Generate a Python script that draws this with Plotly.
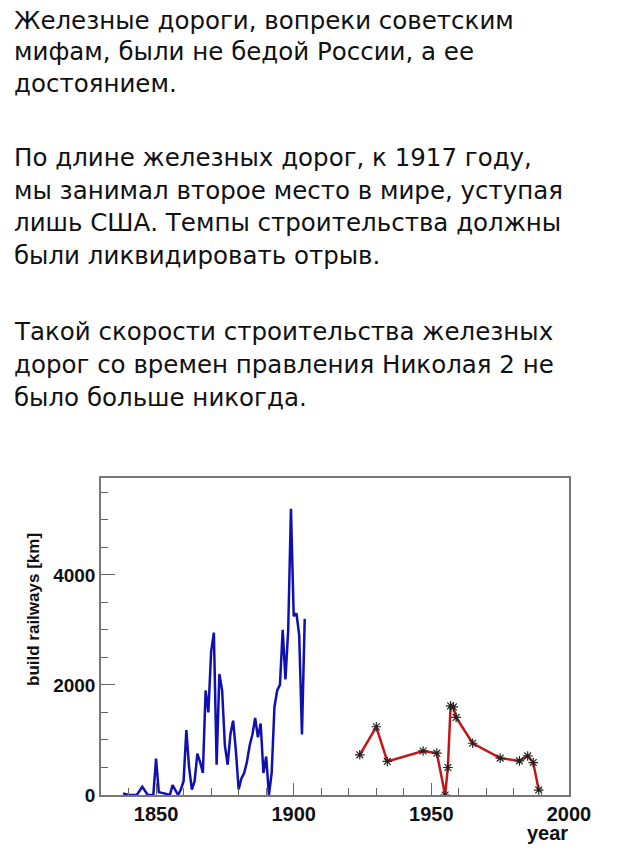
import plotly.graph_objects as go

years_blue = [1838,1840,1843,1845,1847,1849,1850,1851,1853,1855,1856,1858,1859,1860,1861,1862,1863,1864,1865,1866,1867,1868,1869,1870,1871,1872,1873,1874,1875,1876,1877,1878,1879,1880,1881,1882,1883,1884,1885,1886,1887,1888,1889,1890,1891,1892,1893,1894,1895,1896,1897,1898,1899,1900,1901,1902,1903,1904]
km_blue = [30,0,0,150,0,0,660,50,30,0,180,0,100,250,1180,500,100,250,750,600,400,1900,1500,2600,2950,550,2200,1900,900,550,1100,1350,800,100,300,400,600,900,1100,1400,1050,1300,400,700,0,400,1600,1900,2000,3000,2100,3000,5200,3250,3300,2900,1100,3200]

years_red = [1924,1930,1934,1947,1952,1955,1956,1957,1958,1959,1965,1975,1982,1985,1987,1989]
km_red = [730,1240,610,800,760,0,500,1620,1600,1410,940,670,620,710,590,90]

text_lines = [
    (20, "Железные дороги, вопреки советским"),
    (51, "мифам, были не бедой России, а ее"),
    (83, "достоянием."),
    (157, "По длине железных дорог, к 1917 году,"),
    (190, "мы занимал второе место в мире, уступая"),
    (223, "лишь США. Темпы строительства должны"),
    (256, "были ликвидировать отрыв."),
    (331, "Такой скорости строительства железных"),
    (364, "дорог со времен правления Николая 2 не"),
    (397, "было больше никогда."),
]

OFF = 8  # page body margin
L, R, T, B = 101, 569, 478, 795
fig = go.Figure()
fig.add_trace(go.Scatter(x=years_blue, y=km_blue, mode="lines",
                         line=dict(color="#1010b0", width=2.5), showlegend=False))
fig.add_trace(go.Scatter(x=years_red, y=km_red, mode="lines+markers",
                         line=dict(color="#c01818", width=2.5),
                         marker=dict(symbol="asterisk-open", size=8, color="#222", line=dict(width=1.2, color="#222")),
                         showlegend=False))

def px(x):
    return (x - L) / (R - L)

def py(y):
    return (B - y) / (B - T)

anns = []
for yy, t in text_lines:
    anns.append(dict(text=t, xref="paper", yref="paper", x=px(12), y=py(yy),
                     xanchor="left", yanchor="middle", showarrow=False,
                     font=dict(family="DejaVu Sans", size=24.5, color="#111")))
anns.append(dict(text="<b>build railways [km]</b>", xref="paper", yref="paper",
                 x=px(33), y=py(610), textangle=-90,
                 xanchor="center", yanchor="middle", showarrow=False,
                 font=dict(family="Liberation Sans", size=17, color="#111")))
anns.append(dict(text="<b>year</b>", xref="paper", yref="paper",
                 x=px(570), y=py(833),
                 xanchor="right", yanchor="middle", showarrow=False,
                 font=dict(family="Liberation Sans", size=20, color="#111")))

fig.update_layout(
    width=640, height=853,
    margin=dict(l=L - OFF, r=640 - R + OFF, t=T - OFF, b=853 - B + OFF),
    paper_bgcolor="white", plot_bgcolor="white", annotations=anns,
    font=dict(family="Liberation Sans", color="#111"),
)
fig.update_xaxes(range=[1830, 2000], tickvals=[1850, 1900, 1950, 2000],
                 ticktext=["<b>1850</b>", "<b>1900</b>", "<b>1950</b>", "<b>2000</b>"],
                 tickfont=dict(size=20), ticks="inside", ticklen=12, tickcolor="#666",
                 minor=dict(dtick=10, ticks="inside", ticklen=7, tickcolor="#666"),
                 showline=True, linecolor="#777", linewidth=1.5, mirror=True,
                 showgrid=False, zeroline=False)
fig.update_yaxes(range=[0, 5760], tickvals=[0, 2000, 4000],
                 ticktext=["<b>0</b>", "<b>2000</b>", "<b>4000</b>"],
                 tickfont=dict(size=19), ticks="inside", ticklen=14, tickcolor="#666",
                 minor=dict(dtick=500, ticks="inside", ticklen=7, tickcolor="#666"),
                 showline=True, linecolor="#777", linewidth=1.5, mirror=True,
                 showgrid=False, zeroline=False)
fig.write_html("out.html")
